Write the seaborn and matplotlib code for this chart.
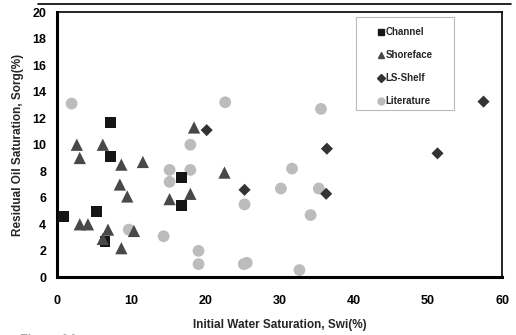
import matplotlib
matplotlib.use("Agg")
import matplotlib.pyplot as plt
import seaborn as sns
import pandas as pd
from matplotlib.lines import Line2D
from matplotlib.patches import Rectangle

# ---- data ----
channel_swi = [0.9, 5.3, 6.5, 7.2, 7.2, 16.8, 16.8]
channel_sorg = [4.6, 5.0, 2.7, 11.7, 9.1, 7.5, 5.4]

shoreface_swi = [2.7, 3.1, 6.2, 8.7, 11.6, 18.5, 8.5, 9.5, 3.1, 4.2, 6.9, 6.2, 8.7, 10.4, 15.2, 18.0, 22.6]
shoreface_sorg = [10.0, 9.0, 10.0, 8.5, 8.7, 11.3, 7.0, 6.1, 4.0, 4.0, 3.6, 2.9, 2.2, 3.5, 5.9, 6.3, 7.9]

shelf_swi = [20.2, 25.3, 36.4, 36.3, 51.3, 57.5]
shelf_sorg = [11.1, 6.6, 9.7, 6.3, 9.35, 13.25]

lit_swi = [2.0, 22.7, 18.0, 15.2, 15.2, 18.0, 9.7, 14.4, 19.1, 19.1, 25.3, 25.2, 25.6,
           35.6, 31.7, 30.2, 35.3, 34.2, 32.7]
lit_sorg = [13.1, 13.2, 10.0, 8.1, 7.2, 8.1, 3.6, 3.1, 2.0, 1.0, 5.5, 1.0, 1.1,
            12.7, 8.2, 6.7, 6.7, 4.7, 0.55]

series = ["Channel", "Shoreface", "LS-Shelf", "Literature"]
x_ticks = [0, 10, 20, 30, 40, 50, 60]
y_ticks = [0, 2, 4, 6, 8, 10, 12, 14, 16, 18, 20]

frames = []
for name, xs, ys in [("Channel", channel_swi, channel_sorg),
                     ("Shoreface", shoreface_swi, shoreface_sorg),
                     ("LS-Shelf", shelf_swi, shelf_sorg),
                     ("Literature", lit_swi, lit_sorg)]:
    frames.append(pd.DataFrame({"Swi": xs, "Sorg": ys, "Type": name}))
df = pd.concat(frames, ignore_index=True)

sns.set_style("white")
plt.rcParams["font.family"] = ["Liberation Sans", "DejaVu Sans"]
plt.rcParams["font.weight"] = "bold"

W, H = 516, 335
fig = plt.figure(figsize=(W / 100, H / 100), dpi=100)
ax = fig.add_axes([0.110, 0.172, 0.863, 0.792])

styles = {
    "Channel": dict(marker="s", color="#151515", s=62),
    "Shoreface": dict(marker="^", color="#484848", s=78),
    "LS-Shelf": dict(marker="D", color="#333333", s=38),
    "Literature": dict(marker="o", color="#bcbcbc", s=72),
}
for name in series:
    sub = df[df["Type"] == name]
    st = styles[name]
    sns.scatterplot(data=sub, x="Swi", y="Sorg", ax=ax, marker=st["marker"],
                    color=st["color"], s=st["s"], edgecolor="none",
                    legend=False, zorder=3 if name != "Literature" else 2)

ax.set_xlim(0, 60)
ax.set_ylim(0, 20)
ax.set_xticks(x_ticks)
ax.set_yticks(y_ticks)
ax.tick_params(axis="both", direction="inout", length=7, width=1.4,
               labelsize=9, colors="black", pad=4)
for lab in ax.get_xticklabels() + ax.get_yticklabels():
    lab.set_fontweight("bold")
ax.tick_params(axis="x", pad=9)

for side in ["left", "bottom"]:
    ax.spines[side].set_linewidth(2.2)
    ax.spines[side].set_color("black")
for side in ["top", "right"]:
    ax.spines[side].set_linewidth(1.2)
    ax.spines[side].set_color("black")
    ax.spines[side].set_visible(True)

ax.set_xlabel("Initial Water Saturation, Swi(%)", fontsize=8.5, fontweight="bold", labelpad=9)
ax.set_ylabel("Residual Oil Saturation, Sorg(%)", fontsize=8.5, fontweight="bold", labelpad=6)

# legend: frame drawn as a rectangle, entries placed inside it
fig.add_artist(Rectangle((356 / W, 1 - 110 / H), 98 / W, 93 / H,
                         transform=fig.transFigure, facecolor="white",
                         edgecolor="#bbbbbb", linewidth=0.8, zorder=5))
handles = [
    Line2D([], [], marker="s", color="#151515", linestyle="none", markersize=5),
    Line2D([], [], marker="^", color="#484848", linestyle="none", markersize=5),
    Line2D([], [], marker="D", color="#333333", linestyle="none", markersize=4),
    Line2D([], [], marker="o", color="#bcbcbc", linestyle="none", markersize=5),
]
leg = fig.legend(handles, series, loc="upper left",
                 bbox_to_anchor=(378 / W, 1 - 27 / H),
                 frameon=False, fontsize=7, handlelength=0.6,
                 handletextpad=0.15, labelspacing=1.35, borderpad=0,
                 borderaxespad=0)
leg.set_zorder(6)
for t in leg.get_texts():
    t.set_fontweight("bold")

# top rule of the page and the cut-off figure caption
fig.add_artist(Line2D([0.074, 0.99], [1 - 3.5 / H, 1 - 3.5 / H],
                      transform=fig.transFigure, color="black", linewidth=1.2))
fig.text(20 / W, 1.5 / H, "Figure 14", va="top", ha="left", fontsize=9,
         color="#aaaaaa", fontweight="bold")

fig.savefig("out.png", dpi=100)
